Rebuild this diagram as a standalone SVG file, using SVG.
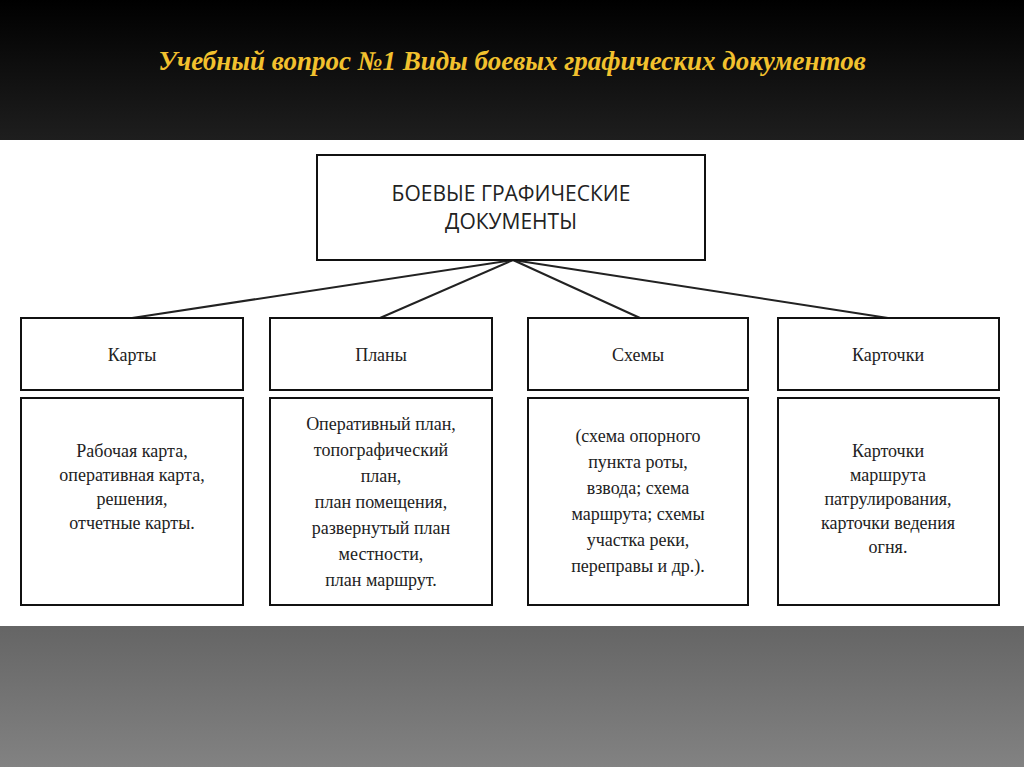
<svg xmlns="http://www.w3.org/2000/svg" width="1024" height="767" viewBox="0 0 1024 767">
<defs>
<linearGradient id="top" x1="0" y1="0" x2="0" y2="1"><stop offset="0" stop-color="#000"/><stop offset="1" stop-color="#1e1e1e"/></linearGradient>
<linearGradient id="bot" x1="0" y1="0" x2="0" y2="1"><stop offset="0" stop-color="#656565"/><stop offset="1" stop-color="#828282"/></linearGradient>
</defs>
<style>
.b{fill:#fff;stroke:#111;stroke-width:2}
.t{font-family:"Liberation Serif",serif;fill:#222;text-anchor:middle;font-size:18px}
.h{font-family:"Open Sans","Liberation Sans",sans-serif;fill:#222;text-anchor:middle;font-size:21px}
.c{stroke:#222;stroke-width:2;fill:none}
</style>
<rect width="1024" height="140" fill="url(#top)"/>
<rect y="140" width="1024" height="486" fill="#fff"/>
<rect y="626" width="1024" height="141" fill="url(#bot)"/>
<text x="512" y="70" font-family="Liberation Serif,serif" font-weight="bold" font-style="italic" font-size="27" fill="#f2c12e" text-anchor="middle">Учебный вопрос №1 Виды боевых графических документов</text>
<g id="connectors">
<line class="c" x1="513" y1="260" x2="132" y2="318"/>
<line class="c" x1="513" y1="260" x2="380" y2="318"/>
<line class="c" x1="513" y1="260" x2="640" y2="318"/>
<line class="c" x1="513" y1="260" x2="888" y2="318"/>
</g>
<g id="root"><rect class="b" x="317" y="155" width="388" height="105"/>
<text class="h" x="511" y="201">БОЕВЫЕ ГРАФИЧЕСКИЕ</text><text class="h" x="511" y="229">ДОКУМЕНТЫ</text></g>
<g id="karty"><rect class="b" x="21" y="318" width="222" height="72"/><text class="t" x="132" y="361" font-size="20">Карты</text></g>
<g id="plany"><rect class="b" x="270" y="318" width="222" height="72"/><text class="t" x="381" y="361" font-size="20">Планы</text></g>
<g id="shemy"><rect class="b" x="528" y="318" width="220" height="72"/><text class="t" x="638" y="361" font-size="20">Схемы</text></g>
<g id="kartochki"><rect class="b" x="778" y="318" width="221" height="72"/><text class="t" x="888" y="361" font-size="20">Карточки</text></g>
<g id="karty-d"><rect class="b" x="21" y="398" width="222" height="207"/>
<text class="t" x="132" y="457">Рабочая карта,</text><text class="t" x="132" y="481">оперативная карта,</text><text class="t" x="132" y="505">решения,</text><text class="t" x="132" y="529">отчетные карты.</text></g>
<g id="plany-d"><rect class="b" x="270" y="398" width="222" height="207"/>
<text class="t" x="381" y="430">Оперативный план,</text><text class="t" x="381" y="456">топографический</text><text class="t" x="381" y="482">план,</text><text class="t" x="381" y="508">план помещения,</text><text class="t" x="381" y="534">развернутый план</text><text class="t" x="381" y="560">местности,</text><text class="t" x="381" y="586">план маршрут.</text></g>
<g id="shemy-d"><rect class="b" x="528" y="398" width="220" height="207"/>
<text class="t" x="638" y="442">(схема опорного</text><text class="t" x="638" y="468">пункта роты,</text><text class="t" x="638" y="494">взвода; схема</text><text class="t" x="638" y="520">маршрута; схемы</text><text class="t" x="638" y="546">участка реки,</text><text class="t" x="638" y="572">переправы и др.).</text></g>
<g id="kartochki-d"><rect class="b" x="778" y="398" width="221" height="207"/>
<text class="t" x="888" y="457">Карточки</text><text class="t" x="888" y="481">маршрута</text><text class="t" x="888" y="505">патрулирования,</text><text class="t" x="888" y="529">карточки ведения</text><text class="t" x="888" y="553">огня.</text></g>
</svg>
